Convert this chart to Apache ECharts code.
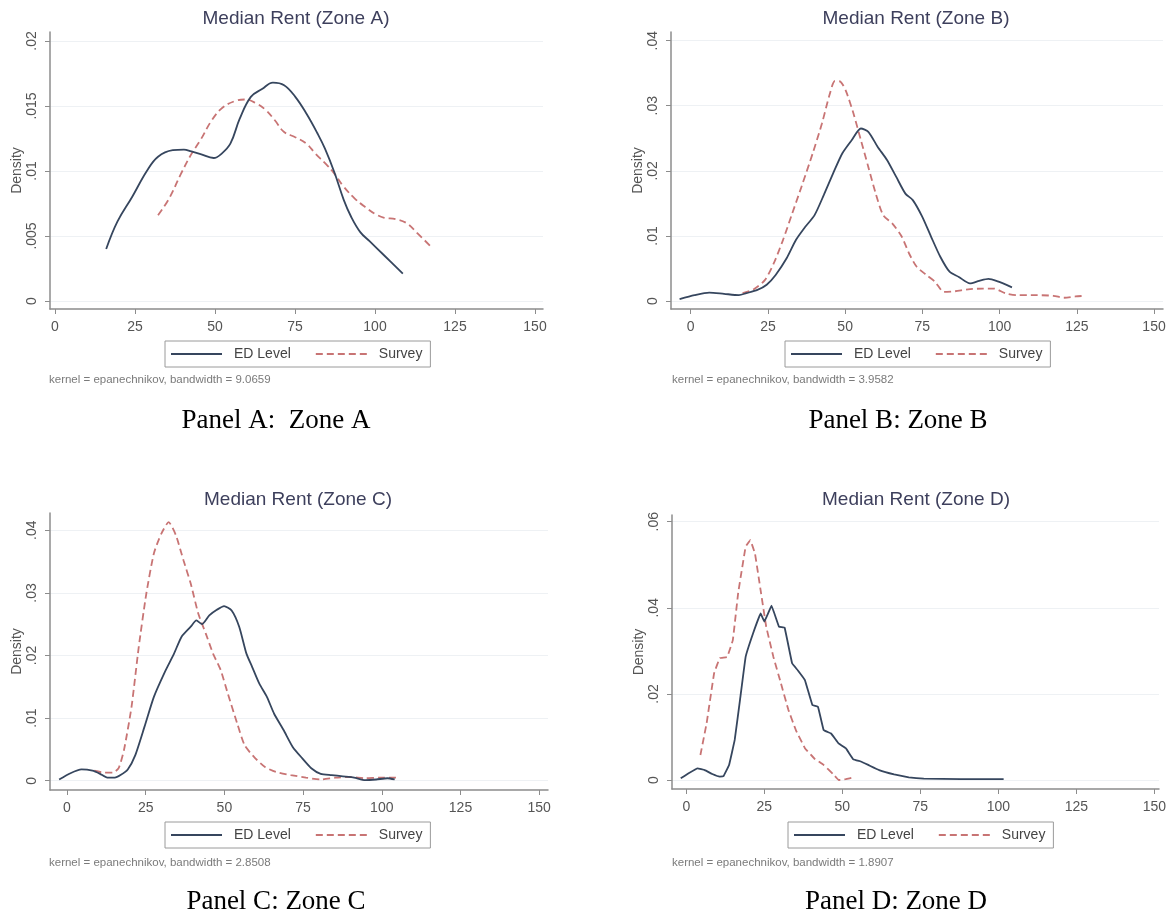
<!DOCTYPE html>
<html><head><meta charset="utf-8">
<script src="https://cdn.jsdelivr.net/npm/echarts@6/dist/echarts.min.js"></script>
<style>html,body{margin:0;padding:0;background:#fff}#c{width:1175px;height:919px}</style>
</head><body><div id="c"></div>
<script>
// ---------- data ----------
const seriesNames = ['ED Level', 'Survey'];
const panelTitles = ['Median Rent (Zone A)', 'Median Rent (Zone B)', 'Median Rent (Zone C)', 'Median Rent (Zone D)'];
const notes = ['kernel = epanechnikov, bandwidth = 9.0659', 'kernel = epanechnikov, bandwidth = 3.9582',
               'kernel = epanechnikov, bandwidth = 2.8508', 'kernel = epanechnikov, bandwidth = 1.8907'];
const captions = ['Panel A:  Zone A', 'Panel B: Zone B', 'Panel C: Zone C', 'Panel D: Zone D'];
const xTicks = [0, 25, 50, 75, 100, 125, 150];
const yTicksA = [0, 0.005, 0.01, 0.015, 0.02];
const yTicksB = [0, 0.01, 0.02, 0.03, 0.04];
const yTicksC = [0, 0.01, 0.02, 0.03, 0.04];
const yTicksD = [0, 0.02, 0.04, 0.06];

const edA = [[16.0,0.0040],[19.5,0.0061],[24.1,0.0080],[28.7,0.0100],[32.2,0.0111],[36.8,0.0116],[40.3,0.01165],[42.6,0.0115],[45.5,0.0113],[49.6,0.0110],[51.9,0.0113],[54.8,0.0121],[57.7,0.0140],[61.2,0.0157],[64.7,0.0163],[68.1,0.0168],[71.6,0.0166],[75.1,0.0157],[78.6,0.0144],[82.0,0.0129],[84.4,0.0117],[87.3,0.0099],[90.2,0.0078],[92.5,0.0065],[95.4,0.0053],[98.3,0.0046],[102.9,0.0035],[108.7,0.0021]];
const svA = [[32.2,0.0066],[35.7,0.0079],[39.2,0.0097],[42.6,0.0113],[45.5,0.0124],[49.0,0.0139],[52.5,0.0149],[56.5,0.0154],[59.4,0.0155],[62.9,0.0152],[65.8,0.0147],[68.7,0.0139],[71.6,0.0130],[75.1,0.0126],[78.6,0.0121],[81.5,0.0113],[84.4,0.0106],[87.3,0.0098],[90.2,0.0088],[93.6,0.0079],[97.1,0.0072],[100.0,0.0067],[102.9,0.0064],[106.4,0.0063],[109.8,0.0060],[113.3,0.0052],[117.4,0.0042]];
const edB = [[-3.6,0.0003],[1.2,0.0009],[6.0,0.0013],[10.8,0.0011],[15.6,0.0009],[18.0,0.0012],[21.6,0.0017],[24.6,0.0025],[27.5,0.0040],[31.1,0.0066],[34.1,0.0094],[37.1,0.0114],[40.1,0.0132],[43.1,0.0163],[46.1,0.0196],[49.1,0.0227],[52.1,0.0247],[55.1,0.0265],[57.5,0.0260],[60.5,0.0237],[63.5,0.0217],[66.5,0.0191],[69.5,0.0165],[71.9,0.0155],[74.9,0.0130],[77.8,0.0099],[80.8,0.0068],[83.8,0.0045],[86.8,0.0037],[90.4,0.0027],[93.4,0.0031],[96.4,0.0034],[99.4,0.0030],[104.0,0.0021]];
const svB = [[16.8,0.0012],[20.4,0.0018],[24.0,0.0032],[26.9,0.0058],[29.9,0.0094],[32.9,0.0135],[35.9,0.0176],[39.5,0.0227],[42.5,0.0273],[44.9,0.0316],[46.7,0.0338],[48.5,0.0337],[50.3,0.0322],[52.7,0.0288],[55.1,0.0247],[57.5,0.0206],[59.9,0.0165],[62.3,0.0132],[65.3,0.0119],[68.3,0.0099],[70.7,0.0073],[73.1,0.0053],[76.0,0.0041],[79.0,0.0030],[82.0,0.0014],[85.6,0.0015],[89.8,0.0018],[94.6,0.0019],[98.2,0.0019],[101.8,0.0012],[105.4,0.0009],[111.4,0.0009],[117.4,0.0008],[121.0,0.0005],[124.6,0.0007],[127.5,0.0008]];
const edC = [[-2.5,0.0002],[1.1,0.0012],[4.6,0.0018],[8.1,0.0016],[10.5,0.0011],[12.8,0.0005],[15.2,0.0005],[17.0,0.0009],[19.3,0.0018],[21.7,0.0041],[24.6,0.0086],[27.6,0.0134],[31.1,0.0174],[34.0,0.0203],[36.4,0.0230],[39.3,0.0246],[41.1,0.0256],[42.9,0.0250],[45.2,0.0264],[47.6,0.0273],[49.9,0.0279],[52.3,0.0272],[54.7,0.0246],[57.0,0.0203],[58.8,0.0182],[61.1,0.0155],[63.5,0.0134],[65.8,0.0107],[68.8,0.0081],[71.7,0.0054],[74.7,0.0036],[77.6,0.0020],[80.6,0.0011],[84.1,0.0009],[87.6,0.0007],[91.2,0.0005],[94.7,0.0001],[98.2,0.0002],[101.8,0.0004],[104.1,0.0002]];
const svC = [[8.7,0.0016],[11.7,0.0013],[14.6,0.0013],[16.4,0.0020],[18.1,0.0049],[20.5,0.0118],[22.8,0.0214],[25.2,0.0299],[27.6,0.0363],[29.9,0.0394],[32.3,0.0413],[34.6,0.0392],[37.0,0.0352],[39.3,0.0315],[41.7,0.0267],[44.1,0.0235],[46.4,0.0203],[48.8,0.0177],[51.1,0.0139],[54.1,0.0091],[56.4,0.0057],[59.4,0.0038],[62.9,0.0022],[66.4,0.0014],[71.1,0.0009],[75.9,0.0005],[80.6,0.0002],[85.3,0.0005],[90.0,0.0006],[94.7,0.0004],[99.4,0.0005],[104.7,0.0005]];
const edD = [[-1.8,0.0004],[0.6,0.0015],[3.6,0.0027],[5.9,0.0023],[8.3,0.0014],[10.7,0.0008],[11.9,0.0009],[13.7,0.0035],[15.5,0.0093],[17.2,0.0186],[19.0,0.0286],[21.4,0.0341],[23.8,0.0387],[25.0,0.0368],[27.3,0.0405],[29.7,0.0356],[31.5,0.0354],[33.9,0.0271],[35.7,0.0255],[38.0,0.0232],[40.4,0.0174],[42.2,0.0170],[44.0,0.0116],[46.4,0.0108],[48.8,0.0085],[51.1,0.0074],[53.5,0.0048],[55.9,0.0043],[58.3,0.0035],[61.8,0.0023],[66.6,0.0013],[71.3,0.0006],[76.1,0.0003],[88.0,0.0002],[101.7,0.0002]];
const svD = [[4.5,0.0058],[6.5,0.0132],[8.9,0.0248],[10.7,0.0283],[13.1,0.0286],[14.9,0.0325],[16.6,0.0434],[19.0,0.0542],[20.5,0.0557],[22.0,0.0526],[23.8,0.0441],[25.6,0.0356],[27.9,0.0286],[30.3,0.0225],[32.7,0.0163],[35.1,0.0116],[38.0,0.0074],[41.0,0.0050],[44.0,0.0035],[47.0,0.0014],[48.8,0.0000],[51.1,0.0002],[53.5,0.0006]];

// ---------- layout ----------
const panels = [
  {grid:{left:50, top:32, width:493, height:277}, x:[-1.56,152.5], y:[-0.000615,0.02069], yTicks:yTicksA, ed:edA, sv:svA, smooth:0.4,
   title:[296,19], legend:[165,341], note:[49,380], caption:[276,421]},
  {grid:{left:671, top:32, width:492, height:277}, x:[-6.38,152.9], y:[-0.00123,0.04133], yTicks:yTicksB, ed:edB, sv:svB, smooth:0.25,
   title:[916,19], legend:[785,341], note:[672,380], caption:[898,421]},
  {grid:{left:50, top:513, width:498, height:277}, x:[-5.4,152.8], y:[-0.00148,0.04276], yTicks:yTicksC, ed:edC, sv:svC, smooth:0.2,
   title:[298,500], legend:[165,822], note:[49,863], caption:[276,902]},
  {grid:{left:672, top:515, width:487, height:274}, x:[-4.6,151.5], y:[-0.00209,0.06156], yTicks:yTicksD, ed:edD, sv:svD, smooth:0.05,
   title:[916,500], legend:[788,822], note:[672,863], caption:[896,902]}
];

const axisColor = '#8c8c8c';
const edColor = '#36465e';
const svColor = '#c87474';
const fmt = v => (v === 0 ? '0' : String(+v.toFixed(4)).replace(/^0\./, '.'));

const grids = [], xAxes = [], yAxes = [], series = [], legends = [], graphics = [];
panels.forEach((p, i) => {
  grids.push(Object.assign({outerBoundsMode:'none', containLabel:false}, p.grid));
  xAxes.push({type:'value', gridIndex:i, min:p.x[0], max:p.x[1],
    axisLine:{show:true, onZero:false, lineStyle:{color:axisColor, width:1.5}},
    axisTick:{show:true, customValues:xTicks, length:5, lineStyle:{color:axisColor, width:1}},
    axisLabel:{customValues:xTicks, margin:11, color:'#555', fontSize:14, fontFamily:'Liberation Sans'},
    splitLine:{show:false}});
  yAxes.push({type:'value', gridIndex:i, min:p.y[0], max:p.y[1],
    name:'Density', nameLocation:'middle', nameGap:26,
    nameTextStyle:{color:'#555', fontSize:14, fontFamily:'Liberation Sans'},
    axisLine:{show:true, onZero:false, lineStyle:{color:axisColor, width:1.5}},
    axisTick:{show:true, customValues:p.yTicks, length:5, lineStyle:{color:axisColor, width:1}},
    axisLabel:{customValues:p.yTicks, rotate:90, margin:11, color:'#555', fontSize:14, fontFamily:'Liberation Sans', formatter:fmt},
    splitLine:{show:true, lineStyle:{color:'#eef1f4', width:1}}});
  series.push({name:seriesNames[0], type:'line', xAxisIndex:i, yAxisIndex:i, data:p.ed, smooth:p.smooth,
    symbol:'none', showSymbol:false, lineStyle:{color:edColor, width:1.8, type:'solid'}, itemStyle:{color:edColor}, z:3});
  series.push({name:seriesNames[1], type:'line', xAxisIndex:i, yAxisIndex:i, data:p.sv, smooth:p.smooth,
    symbol:'none', showSymbol:false, lineStyle:{color:svColor, width:1.8, type:[7,4]}, itemStyle:{color:svColor}, z:2});
  legends.push({left:p.legend[0], top:p.legend[1], orient:'horizontal', data:seriesNames, selectedMode:false,
    itemWidth:51, itemHeight:14, itemGap:24, padding:[6,8,6,5],
    itemStyle:{color:'rgba(0,0,0,0)', borderWidth:0, opacity:0},
    borderColor:'#9a9a9a', borderWidth:1, backgroundColor:'#fff',
    textStyle:{fontSize:14, color:'#444', fontFamily:'Liberation Sans', padding:[0,0,0,7]}});
  graphics.push({type:'text', x:p.title[0], y:p.title[1],
    style:{text:panelTitles[i], align:'center', verticalAlign:'middle', fontSize:19, fontFamily:'Liberation Sans', fill:'#3d3f5c'}});
  graphics.push({type:'text', x:p.note[0], y:p.note[1],
    style:{text:notes[i], align:'left', verticalAlign:'middle', fontSize:11.5, fontFamily:'Liberation Sans', fill:'#7a7a7a'}});
  graphics.push({type:'text', x:p.caption[0], y:p.caption[1],
    style:{text:captions[i], align:'center', verticalAlign:'middle', fontSize:27, fontFamily:'Liberation Serif', fill:'#000'}});
});

const chart = echarts.init(document.getElementById('c'), null, {renderer:'canvas'});
chart.setOption({
  backgroundColor:'#fff', animation:false,
  grid:grids, xAxis:xAxes, yAxis:yAxes, series:series, legend:legends, graphic:graphics
});
</script></body></html>
